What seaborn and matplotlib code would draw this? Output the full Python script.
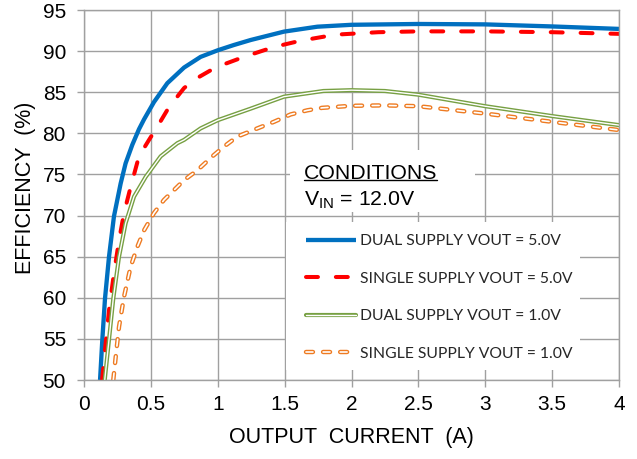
import matplotlib
matplotlib.use("Agg")
import matplotlib.pyplot as plt
import matplotlib.patheffects as pe
from matplotlib.patches import Rectangle
from matplotlib.lines import Line2D
import seaborn as sns

# efficiency curves (output current in A, efficiency in %)
dual_5v_x = [0.12, 0.137, 0.157, 0.187, 0.224, 0.274, 0.311, 0.361, 0.411, 0.449, 0.523,
             0.623, 0.748, 0.872, 1.0, 1.12, 1.246, 1.495, 1.745, 2.0, 2.5, 3.0, 3.5, 4.0]
dual_5v_y = [50, 54.9, 59.9, 65.0, 69.9, 73.9, 76.35, 78.6, 80.5, 81.7, 83.8,
             86.1, 88.0, 89.3, 90.1, 90.74, 91.35, 92.37, 92.97, 93.2, 93.3, 93.25, 93.0, 92.7]

single_5v_x = [0.135, 0.162, 0.187, 0.224, 0.262, 0.299, 0.349, 0.411, 0.486, 0.548, 0.636,
               0.748, 0.822, 0.972, 1.047, 1.196, 1.42, 1.62, 1.72, 1.88, 2.2, 2.5, 3.0,
               3.5, 4.0]
single_5v_y = [50, 54.5, 58.5, 63.0, 67.0, 70.3, 73.5, 77.2, 79.2, 80.8, 83.2,
               85.5, 86.5, 87.9, 88.4, 89.3, 90.5, 91.27, 91.55, 92.0, 92.3, 92.4, 92.4,
               92.3, 92.1]

dual_1v_x = [0.155, 0.187, 0.219, 0.262, 0.311, 0.374, 0.461, 0.573, 0.698, 0.748, 0.872,
             1.0, 1.246, 1.495, 1.79, 2.0, 2.25, 2.5, 3.0, 3.5, 4.0]
dual_1v_y = [50, 54.9, 59.9, 65.0, 69.05, 72.3, 74.7, 77.2, 78.8, 79.2, 80.6,
             81.6, 83.0, 84.46, 85.15, 85.25, 85.15, 84.7, 83.3, 82.1, 81.0]

single_1v_x = [0.219, 0.237, 0.262, 0.299, 0.349, 0.399, 0.449, 0.523, 0.598, 0.673, 0.748,
               0.847, 0.96, 1.047, 1.146, 1.296, 1.42, 1.545, 1.67, 1.78, 2.0, 2.25, 2.5,
               3.0, 3.5, 4.0]
single_1v_y = [50, 52.8, 56.5, 60.1, 63.8, 66.2, 68.2, 70.3, 71.9, 73.1, 74.3,
               75.5, 77.2, 78.4, 79.6, 80.6, 81.4, 82.3, 82.8, 83.1, 83.35, 83.4, 83.3,
               82.4, 81.4, 80.4]

series_labels = ["DUAL SUPPLY VOUT = 5.0V", "SINGLE SUPPLY VOUT = 5.0V",
                 "DUAL SUPPLY VOUT = 1.0V", "SINGLE SUPPLY VOUT = 1.0V"]

x_ticks = [0, 0.5, 1, 1.5, 2, 2.5, 3, 3.5, 4]
x_tick_labels = ["0", "0.5", "1", "1.5", "2", "2.5", "3", "3.5", "4"]
y_ticks = [50, 55, 60, 65, 70, 75, 80, 85, 90, 95]

BLUE = "#0070C0"
RED = "#FF0000"
GREEN = "#77A043"
ORANGE = "#EE7B22"
GRID = "#A0A0A0"


def main():
    sns.set_theme(style="whitegrid")
    plt.rcParams['font.family'] = ['Liberation Sans', 'DejaVu Sans']
    plt.rcParams['mathtext.fontset'] = 'custom'
    plt.rcParams['mathtext.rm'] = 'Liberation Sans'
    plt.rcParams['lines.scale_dashes'] = False

    fig = plt.figure(figsize=(6.37, 4.59), dpi=100)
    ax = fig.add_axes([84 / 637, 79 / 459, 535 / 637, 370 / 459])

    # blue solid
    sns.lineplot(x=dual_5v_x, y=dual_5v_y, ax=ax, color=BLUE, lw=3.1,
                 label=series_labels[0], solid_capstyle='butt', solid_joinstyle='round')
    # red dashed
    sns.lineplot(x=single_5v_x, y=single_5v_y, ax=ax, color=RED, lw=2.9,
                 label=series_labels[1])
    ax.lines[-1].set_dashes((8.6, 12.9))
    ax.lines[-1].set_dash_capstyle('round')
    # green double line
    sns.lineplot(x=dual_1v_x, y=dual_1v_y, ax=ax, color="white", lw=1.0,
                 label=series_labels[2], solid_joinstyle='round',
                 path_effects=[pe.Stroke(linewidth=3.0, foreground=GREEN), pe.Normal()])
    # orange double dashed
    sns.lineplot(x=single_1v_x, y=single_1v_y, ax=ax, color="white", lw=1.2,
                 label=series_labels[3],
                 path_effects=[pe.Stroke(linewidth=3.2, foreground=ORANGE), pe.Normal()])
    ax.lines[-1].set_dashes((5.0, 7.3))
    ax.lines[-1].set_dash_capstyle('round')

    ax.set_xlim(0, 4)
    ax.set_ylim(50, 95)
    ax.set_xticks(x_ticks)
    ax.set_xticklabels(x_tick_labels)
    ax.set_yticks(y_ticks)

    ax.grid(True, color=GRID, lw=1.0)
    ax.set_axisbelow(True)
    for sp in ax.spines.values():
        sp.set_color(GRID)
        sp.set_linewidth(1.0)
    ax.tick_params(axis='both', which='major', direction='out', length=5, width=1.0,
                   color=GRID, labelsize=15, labelcolor='black')
    ax.tick_params(axis='y', pad=8)
    ax.tick_params(axis='x', pad=6)
    ax.tick_params(bottom=True, left=True)

    ax.set_xlabel("OUTPUT  CURRENT  (A)", fontsize=15.5, color='black')
    ax.set_ylabel("EFFICIENCY  (%)", fontsize=15.5, color='black')
    ax.xaxis.set_label_coords(0.5, -0.155)
    ax.xaxis.label.set_verticalalignment('center')
    ax.yaxis.set_label_coords(-0.11, 0.52)
    ax.yaxis.label.set_verticalalignment('center')

    # white boxes behind the conditions text and the legend (they hide the grid)
    ax.add_patch(Rectangle((0.385, 0.454), 0.346, 0.168, transform=ax.transAxes,
                           facecolor='white', edgecolor='none', zorder=1.5))
    ax.add_patch(Rectangle((0.378, 0.027), 0.549, 0.400, transform=ax.transAxes,
                           facecolor='white', edgecolor='none', zorder=1.5))

    cond = ax.text(0.411, 0.543, "CONDITIONS", transform=ax.transAxes, fontsize=15.3,
                   va='baseline', ha='left', color='black', zorder=3)
    ax.text(0.411, 0.473, r"V$_{\mathrm{IN}}$ = 12.0V", transform=ax.transAxes,
            fontsize=15.3, va='baseline', ha='left', color='black', zorder=3)

    leg = ax.legend(loc='center left', bbox_to_anchor=(0.415, 0.223), frameon=False,
                    borderpad=0, borderaxespad=0, handlelength=3.2, handletextpad=0.25,
                    labelspacing=1.5, prop={'family': ['Lato', 'DejaVu Sans'], 'size': 11.3})
    leg.set_zorder(3)

    # underline CONDITIONS
    fig.canvas.draw()
    bb = cond.get_window_extent(fig.canvas.get_renderer())
    inv = fig.transFigure.inverted()
    (x0, _), (x1, _) = inv.transform([(bb.x0, bb.y0), (bb.x1, bb.y0)])
    y_line = inv.transform([(0, bb.y0 + 3)])[0][1]
    fig.add_artist(Line2D([x0, x1], [y_line, y_line], transform=fig.transFigure,
                          color='black', lw=1.0))

    fig.savefig("out.png", dpi=100)


if __name__ == '__main__':
    main()
